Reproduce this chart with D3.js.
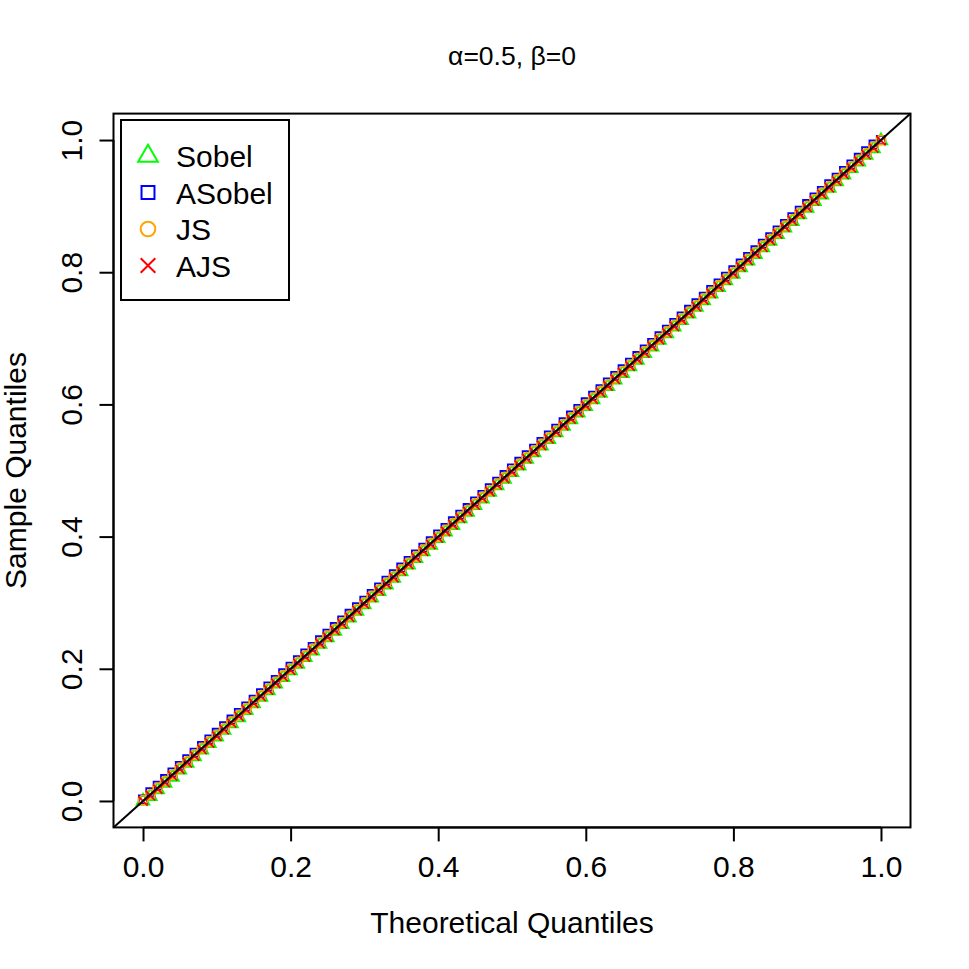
<!DOCTYPE html>
<html>
<head>
<meta charset="utf-8">
<script src="https://cdn.jsdelivr.net/npm/d3@7"></script>
<style>
  html, body { margin: 0; padding: 0; background: #fff; }
  text { font-family: "Liberation Sans", Arial, Helvetica, sans-serif; fill: #000; }
</style>
</head>
<body>
<svg id="chart" width="969" height="969"></svg>
<script>
// ---------- data ----------
const titleText = "α=0.5, β=0";
const xLabel = "Theoretical Quantiles";
const yLabel = "Sample Quantiles";
const tickValues = [0.0, 0.2, 0.4, 0.6, 0.8, 1.0];
const tickLabels = ["0.0", "0.2", "0.4", "0.6", "0.8", "1.0"];

const theoretical = [0.00,0.01,0.02,0.03,0.04,0.05,0.06,0.07,0.08,0.09,0.10,0.11,0.12,0.13,0.14,0.15,0.16,0.17,0.18,0.19,0.20,0.21,0.22,0.23,0.24,0.25,0.26,0.27,0.28,0.29,0.30,0.31,0.32,0.33,0.34,0.35,0.36,0.37,0.38,0.39,0.40,0.41,0.42,0.43,0.44,0.45,0.46,0.47,0.48,0.49,0.50,0.51,0.52,0.53,0.54,0.55,0.56,0.57,0.58,0.59,0.60,0.61,0.62,0.63,0.64,0.65,0.66,0.67,0.68,0.69,0.70,0.71,0.72,0.73,0.74,0.75,0.76,0.77,0.78,0.79,0.80,0.81,0.82,0.83,0.84,0.85,0.86,0.87,0.88,0.89,0.90,0.91,0.92,0.93,0.94,0.95,0.96,0.97,0.98,0.99,1.00];

const sobel = [0.000,0.007,0.017,0.027,0.036,0.047,0.057,0.067,0.077,0.087,0.097,0.107,0.117,0.126,0.137,0.147,0.157,0.167,0.177,0.187,0.197,0.207,0.217,0.227,0.237,0.247,0.257,0.267,0.277,0.287,0.297,0.307,0.317,0.327,0.337,0.347,0.357,0.367,0.377,0.387,0.397,0.407,0.417,0.427,0.437,0.447,0.457,0.467,0.477,0.487,0.497,0.507,0.517,0.527,0.537,0.547,0.557,0.567,0.577,0.587,0.597,0.607,0.617,0.627,0.637,0.647,0.657,0.667,0.677,0.687,0.697,0.707,0.717,0.727,0.737,0.747,0.757,0.767,0.777,0.787,0.797,0.807,0.817,0.827,0.837,0.847,0.857,0.867,0.877,0.887,0.897,0.907,0.917,0.927,0.937,0.947,0.957,0.967,0.977,0.987,0.999];
const asobel = [0.002,0.013,0.023,0.033,0.043,0.053,0.063,0.073,0.083,0.093,0.103,0.113,0.123,0.133,0.143,0.153,0.163,0.173,0.183,0.193,0.203,0.213,0.223,0.233,0.243,0.253,0.263,0.273,0.283,0.293,0.303,0.313,0.323,0.333,0.343,0.353,0.363,0.373,0.383,0.393,0.403,0.413,0.423,0.433,0.443,0.453,0.463,0.473,0.483,0.493,0.503,0.513,0.523,0.533,0.543,0.553,0.563,0.573,0.583,0.593,0.603,0.613,0.623,0.633,0.643,0.653,0.663,0.673,0.683,0.693,0.703,0.713,0.723,0.733,0.743,0.753,0.763,0.773,0.783,0.793,0.803,0.813,0.823,0.833,0.843,0.853,0.863,0.873,0.883,0.893,0.903,0.913,0.923,0.933,0.943,0.953,0.963,0.973,0.983,0.993,1.000];
const js = [0.001,0.010,0.020,0.030,0.040,0.050,0.060,0.070,0.080,0.090,0.100,0.110,0.120,0.130,0.140,0.150,0.160,0.170,0.180,0.190,0.200,0.210,0.220,0.230,0.240,0.250,0.260,0.270,0.280,0.290,0.300,0.310,0.320,0.330,0.340,0.350,0.360,0.370,0.380,0.390,0.400,0.410,0.420,0.430,0.440,0.450,0.460,0.470,0.480,0.490,0.500,0.510,0.520,0.530,0.540,0.550,0.560,0.570,0.580,0.590,0.600,0.610,0.620,0.630,0.640,0.650,0.660,0.670,0.680,0.690,0.700,0.710,0.720,0.730,0.740,0.750,0.760,0.770,0.780,0.790,0.800,0.810,0.820,0.830,0.840,0.850,0.860,0.870,0.880,0.890,0.900,0.910,0.920,0.930,0.940,0.950,0.960,0.970,0.980,0.990,1.000];
const ajs = [0.000,0.008,0.018,0.028,0.038,0.048,0.058,0.068,0.078,0.088,0.098,0.108,0.118,0.128,0.138,0.148,0.158,0.168,0.178,0.188,0.198,0.208,0.218,0.228,0.238,0.248,0.258,0.268,0.278,0.288,0.298,0.308,0.318,0.328,0.338,0.348,0.358,0.368,0.378,0.388,0.398,0.408,0.418,0.428,0.438,0.448,0.458,0.468,0.478,0.488,0.498,0.508,0.518,0.528,0.538,0.548,0.558,0.568,0.578,0.588,0.598,0.608,0.618,0.628,0.638,0.648,0.658,0.668,0.678,0.688,0.698,0.708,0.718,0.728,0.738,0.748,0.758,0.768,0.778,0.788,0.798,0.808,0.818,0.828,0.838,0.848,0.858,0.868,0.878,0.888,0.898,0.908,0.918,0.928,0.938,0.948,0.958,0.968,0.978,0.988,0.999];

const seriesNames = ["Sobel", "ASobel", "JS", "AJS"];
const seriesColors = ["#00FF00", "#0000FF", "#FFA500", "#FF0000"];
const seriesShapes = ["triangle", "square", "circle", "cross"];
const seriesValues = [sobel, asobel, js, ajs];

// ---------- layout ----------
const svg = d3.select("#chart");
const pLeft = 113.5, pRight = 910.5, pTop = 113.6, pBottom = 827.4;
const x = d3.scaleLinear().domain([-0.04, 1.04]).range([pLeft, pRight]);
const y = d3.scaleLinear().domain([-0.04, 1.04]).range([pBottom, pTop]);

function markerPath(shape, s) {
  const p = d3.path();
  if (shape === "triangle") {
    const r = 0.583 * s, yc = 0.2916 * s, xc = 0.505 * s;
    p.moveTo(0, -r); p.lineTo(xc, yc); p.lineTo(-xc, yc); p.closePath();
  } else if (shape === "square") {
    const h = 0.332 * s;
    p.rect(-h, -h, 2 * h, 2 * h);
  } else if (shape === "circle") {
    const r = 0.375 * s;
    p.moveTo(r, 0); p.arc(0, 0, r, 0, 2 * Math.PI);
  } else {
    const h = 0.375 * s;
    p.moveTo(-h, -h); p.lineTo(h, h); p.moveTo(-h, h); p.lineTo(h, -h);
  }
  return p.toString();
}

// points
const plotSize = 12.5;
seriesValues.forEach((vals, i) => {
  svg.append("g")
    .selectAll("path")
    .data(theoretical.map((t, j) => [t, vals[j]]))
    .join("path")
    .attr("transform", d => `translate(${x(d[0])},${y(d[1])})`)
    .attr("d", markerPath(seriesShapes[i], plotSize))
    .attr("fill", "none")
    .attr("stroke", seriesColors[i])
    .attr("stroke-width", 1.8);
});

// abline y = x
svg.append("line")
  .attr("x1", x(-0.04)).attr("y1", y(-0.04))
  .attr("x2", x(1.04)).attr("y2", y(1.04))
  .attr("stroke", "#000").attr("stroke-width", 2);

// frame
svg.append("rect")
  .attr("x", pLeft).attr("y", pTop)
  .attr("width", pRight - pLeft).attr("height", pBottom - pTop)
  .attr("fill", "none").attr("stroke", "#000").attr("stroke-width", 2);

// axes
const xAxis = d3.axisBottom(x).tickValues(tickValues).tickFormat((d, i) => tickLabels[i]).tickSize(14).tickPadding(0);
const gx = svg.append("g").attr("transform", `translate(0,${pBottom})`).call(xAxis);
gx.select(".domain").attr("d", `M${x(0)},0H${x(1)}`).attr("stroke-width", 2);
gx.selectAll(".tick line").attr("stroke-width", 2);
gx.selectAll(".tick text").attr("font-size", 30).attr("y", 49.5).attr("dy", null)
  .style("font-family", "'Liberation Sans', Arial, sans-serif");

const yAxis = d3.axisLeft(y).tickValues(tickValues).tickFormat((d, i) => tickLabels[i]).tickSize(14).tickPadding(0);
const gy = svg.append("g").attr("transform", `translate(${pLeft},0)`).call(yAxis);
gy.select(".domain").attr("d", `M0,${y(0)}V${y(1)}`).attr("stroke-width", 2);
gy.selectAll(".tick line").attr("stroke-width", 2);
gy.selectAll(".tick text")
  .attr("x", null).attr("dy", null)
  .attr("text-anchor", "middle")
  .attr("transform", "translate(-31.5,0) rotate(-90)")
  .attr("font-size", 30)
  .style("font-family", "'Liberation Sans', Arial, sans-serif");

// title & axis labels
svg.append("text").attr("x", (pLeft + pRight) / 2).attr("y", 65)
  .attr("text-anchor", "middle").attr("font-size", 26.5).text(titleText);
svg.append("text").attr("x", (pLeft + pRight) / 2).attr("y", 933)
  .attr("text-anchor", "middle").attr("font-size", 30).text(xLabel);
svg.append("text")
  .attr("transform", `translate(25.5,${(pTop + pBottom) / 2}) rotate(-90)`)
  .attr("text-anchor", "middle").attr("font-size", 30).text(yLabel);

// legend
const lg = svg.append("g");
lg.append("rect").attr("x", 121).attr("y", 120).attr("width", 168).attr("height", 180)
  .attr("fill", "#fff").attr("stroke", "#000").attr("stroke-width", 2);
seriesNames.forEach((name, i) => {
  const cy = 156 + i * 36.5;
  lg.append("path")
    .attr("transform", `translate(148,${cy})`)
    .attr("d", markerPath(seriesShapes[i], 19.5))
    .attr("fill", "none").attr("stroke", seriesColors[i]).attr("stroke-width", 2);
  lg.append("text").attr("x", 176).attr("y", cy + 11).attr("font-size", 30).text(name);
});
</script>
</body>
</html>
